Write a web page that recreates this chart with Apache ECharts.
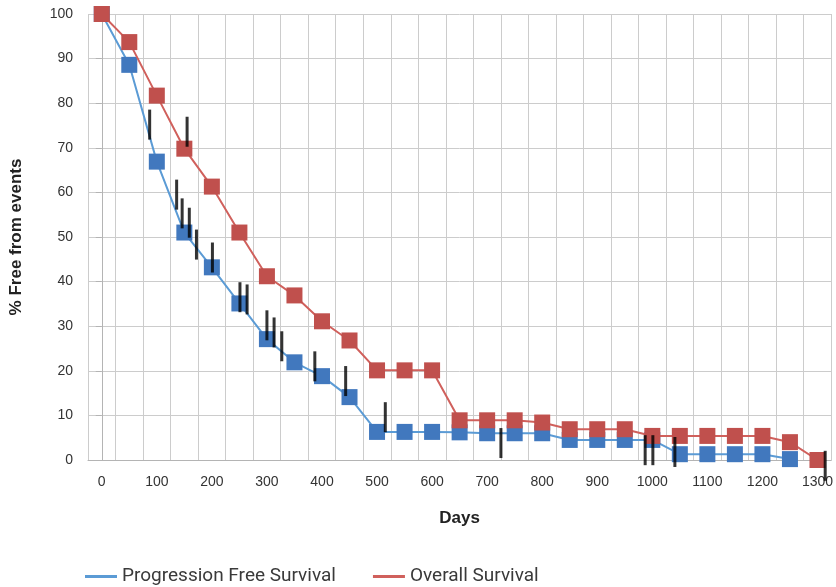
<!DOCTYPE html>
<html>
<head>
<meta charset="utf-8">
<script src="https://cdn.jsdelivr.net/npm/echarts@6/dist/echarts.min.js"></script>
<style>
  html, body { margin: 0; padding: 0; background: #fff; }
  #chart { width: 836px; height: 587px; }
</style>
</head>
<body>
<div id="chart"></div>
<script>
// Days, one category every 50 days
const days = [0, 50, 100, 150, 200, 250, 300, 350, 400, 450, 500, 550, 600, 650,
  700, 750, 800, 850, 900, 950, 1000, 1050, 1100, 1150, 1200, 1250, 1300];

const pfs = [100, 88.6, 66.9, 51, 43.2, 35.1, 27.1, 21.9, 18.8, 14.1, 6.3, 6.3, 6.3, 6.2,
  6.0, 6.0, 6.0, 4.5, 4.5, 4.5, 4.5, 1.3, 1.3, 1.3, 1.3, 0.2, '-'];

const os = [100, 93.7, 81.7, 69.8, 61.3, 51, 41.2, 36.9, 31.1, 26.8, 20.1, 20.1, 20.1, 8.9,
  8.9, 8.9, 8.4, 6.9, 6.9, 6.9, 5.4, 5.4, 5.4, 5.4, 5.4, 4.0, 0];

// censored observations: [day, % at centre of mark]
const censored = [
  [87, 75.2], [136, 59.5], [146, 55.3], [155, 73.6], [159, 53.2], [172, 48.3],
  [201, 45.4], [251, 36.5], [264, 36], [300, 30.2], [313, 28.6], [327, 25.5],
  [387, 21], [443, 17.7], [515, 9.6], [725, 3.8], [987, 2.2], [1001, 2.2],
  [1041, 1.8], [1314, -1.3]
];

const yTicks = [0, 10, 20, 30, 40, 50, 60, 70, 80, 90, 100];

const chart = echarts.init(document.getElementById('chart'));

const gridColor = '#cccccc';
const font = '"Liberation Sans", Arial, sans-serif';

chart.setOption({
  animation: false,
  grid: { left: 88, right: 2, top: 14, bottom: 127 },
  legend: {
    left: 80,
    top: 562,
    itemWidth: 32,
    itemHeight: 3,
    itemGap: 37,
    icon: 'rect',
    textStyle: { fontFamily: 'Roboto, sans-serif', fontSize: 19, color: '#3a3a3a' },
    data: [
      { name: 'Progression Free Survival', itemStyle: { color: '#5b9bd5' } },
      { name: 'Overall Survival', itemStyle: { color: '#d0605c' } }
    ]
  },
  xAxis: [
    {
      type: 'category',
      data: days.map(String),
      boundaryGap: true,
      name: 'Days',
      nameLocation: 'middle',
      nameGap: 50,
      nameTextStyle: { fontFamily: font, fontSize: 17, fontWeight: 'bold', color: '#222' },
      axisLine: { lineStyle: { color: '#b4b4b4' } },
      axisTick: { show: false },
      axisLabel: { interval: 1, margin: 15, fontFamily: font, fontSize: 14, color: '#333' },
      splitLine: { show: true, interval: 0, lineStyle: { color: gridColor } }
    },
    {
      type: 'value',
      min: -25,
      max: 1325,
      show: false
    }
  ],
  yAxis: {
    type: 'value',
    min: yTicks[0],
    max: yTicks[yTicks.length - 1],
    interval: 10,
    name: '% Free from events',
    nameLocation: 'middle',
    nameGap: 63,
    nameTextStyle: { fontFamily: font, fontSize: 17, fontWeight: 'bold', color: '#222' },
    axisLine: { show: true, lineStyle: { color: '#b4b4b4' } },
    axisTick: { show: true, length: 6, lineStyle: { color: '#b4b4b4' } },
    axisLabel: { margin: 15, fontFamily: font, fontSize: 14, color: '#333' },
    splitLine: { show: true, lineStyle: { color: gridColor } }
  },
  series: [
    {
      name: 'Progression Free Survival',
      type: 'line',
      data: pfs,
      symbol: 'rect',
      symbolSize: 16,
      lineStyle: { color: '#5b9bd5', width: 2 },
      itemStyle: { color: '#4178be' },
      z: 2
    },
    {
      name: 'Overall Survival',
      type: 'line',
      data: os,
      symbol: 'rect',
      symbolSize: 16,
      lineStyle: { color: '#d0605c', width: 2 },
      itemStyle: { color: '#c0504d' },
      z: 3
    },
    {
      name: 'Censored',
      type: 'scatter',
      xAxisIndex: 1,
      data: censored,
      symbol: 'rect',
      symbolSize: [3, 30],
      itemStyle: { color: '#000' },
      clip: false,
      z: 5
    }
  ]
});
</script>
</body>
</html>
